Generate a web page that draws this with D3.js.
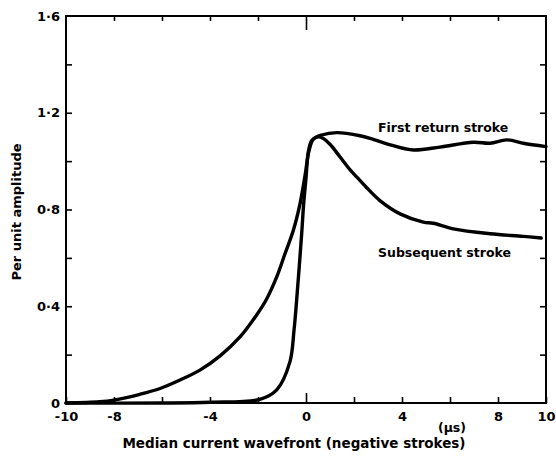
<!DOCTYPE html>
<html>
<head>
<meta charset="utf-8">
<script src="https://cdn.jsdelivr.net/npm/d3@7"></script>
<style>
  html, body { margin: 0; padding: 0; background: #fff; }
  svg { display: block; }
  text { font-family: "DejaVu Sans", sans-serif; font-weight: bold; fill: #000; }
</style>
</head>
<body>
<svg id="chart" width="556" height="458"></svg>
<script>
// ---- data ----
const firstX = [-10, -8.6, -8, -6.92, -6.08, -5.25, -4.42, -3.58, -2.75, -2.05, -1.64, -1.22, -0.875, -0.53, -0.25, -0.04, 0.12, 0.3, 0.65, 1.28, 2.25, 2.8, 3.6, 4.47, 5.58, 6.97, 7.67, 8.36, 9.05, 10];
const firstY = [0, 0.005, 0.012, 0.036, 0.06, 0.095, 0.136, 0.195, 0.273, 0.365, 0.43, 0.521, 0.617, 0.713, 0.823, 0.94, 1.04, 1.09, 1.108, 1.118, 1.105, 1.09, 1.065, 1.046, 1.058, 1.078, 1.074, 1.088, 1.074, 1.06];
const subX = [-10, -6, -4, -1.92, -1.22, -0.67, -0.5, -0.39, -0.18, -0.1, 0, 0.1, 0.24, 0.5, 0.7, 1.0, 1.42, 1.83, 2.11, 2.53, 3.08, 3.92, 4.89, 5.3, 6.14, 7.67, 9.05, 9.8];
const subY = [0, 0, 0.003, 0.015, 0.054, 0.17, 0.3, 0.425, 0.70, 0.82, 0.93, 1.04, 1.085, 1.1, 1.095, 1.07, 1.017, 0.965, 0.935, 0.89, 0.837, 0.782, 0.748, 0.743, 0.72, 0.70, 0.689, 0.682];
const xTicks = [-10, -8, -6, -4, -2, 0, 2, 4, 6, 8, 10];
const xTickLabels = ["-10", "-8", "", "-4", "", "0", "", "4", "", "8", "10"];
const yTicks = [0, 0.2, 0.4, 0.6, 0.8, 1.0, 1.2, 1.4, 1.6];
const yTickLabels = ["0", "", "0·4", "", "0·8", "", "1·2", "", "1·6"];
const seriesNames = ["First return stroke", "Subsequent stroke"];
const xTitle = "Median current wavefront (negative strokes)";
const yTitle = "Per unit amplitude";
const unitLabel = "(µs)";

// ---- layout ----
const svg = d3.select("#chart");
const x = d3.scaleLinear().domain([-10, 10]).range([66, 546]);
const y = d3.scaleLinear().domain([0, 1.6]).range([403, 16]);

// frame
const ax = svg.append("g").attr("stroke", "#000").attr("stroke-width", 2).attr("fill", "none");
ax.append("rect")
  .attr("x", x(-10)).attr("y", y(1.6))
  .attr("width", x(10) - x(-10)).attr("height", y(0) - y(1.6));

// bottom axis (ticks inward)
const bottom = d3.axisBottom(x).tickValues(xTicks)
  .tickSize(0).tickFormat((d, i) => xTickLabels[i]).tickPadding(9);
const gB = svg.append("g").attr("transform", `translate(0,${y(0)})`).call(bottom);
gB.select(".domain").remove();
gB.selectAll(".tick text").attr("font-size", 13);
gB.selectAll(".tick").append("line")
  .attr("y1", 0).attr("y2", d => d === 0 ? -10 : -6)
  .attr("stroke", "#000").attr("stroke-width", 1.6);

// top ticks
const gT = svg.append("g").attr("transform", `translate(0,${y(1.6)})`)
  .call(d3.axisTop(x).tickValues(xTicks.slice(1, -1)).tickSize(0).tickFormat(""));
gT.select(".domain").remove();
gT.selectAll(".tick").append("line")
  .attr("y1", 0).attr("y2", d => d === 0 ? 14 : 5)
  .attr("stroke", "#000").attr("stroke-width", 1.6);

// left axis
const gL = svg.append("g").attr("transform", `translate(${x(-10)},0)`)
  .call(d3.axisLeft(y).tickValues(yTicks).tickSize(0).tickPadding(6).tickFormat((d, i) => yTickLabels[i]));
gL.select(".domain").remove();
gL.selectAll(".tick text").attr("font-size", 13);
gL.selectAll(".tick").filter(d => d > 0 && d < 1.6).append("line")
  .attr("x1", 0).attr("x2", 6).attr("stroke", "#000").attr("stroke-width", 1.6);

// right axis ticks
const gR = svg.append("g").attr("transform", `translate(${x(10)},0)`)
  .call(d3.axisRight(y).tickValues(yTicks.slice(1, -1)).tickSize(0).tickFormat(""));
gR.select(".domain").remove();
gR.selectAll(".tick").append("line")
  .attr("x1", 0).attr("x2", -6).attr("stroke", "#000").attr("stroke-width", 1.6);

// curves
const line = d3.line().x(d => x(d[0])).y(d => y(d[1])).curve(d3.curveCatmullRom.alpha(0.5));
const series = [d3.zip(firstX, firstY), d3.zip(subX, subY)];
svg.append("g").selectAll("path").data(series).join("path")
  .attr("d", line)
  .attr("fill", "none").attr("stroke", "#000").attr("stroke-width", 3.4)
  .attr("stroke-linejoin", "round").attr("stroke-linecap", "round");

// series labels
svg.append("text").attr("x", 378).attr("y", 132).attr("font-size", 12.5).text(seriesNames[0]);
svg.append("text").attr("x", 378).attr("y", 257).attr("font-size", 12.5).text(seriesNames[1]);

// axis titles
svg.append("text").attr("x", 294).attr("y", 448).attr("text-anchor", "middle")
  .attr("font-size", 13.5).text(xTitle);
svg.append("text").attr("transform", "translate(21,212) rotate(-90)").attr("text-anchor", "middle")
  .attr("font-size", 13).text(yTitle);
svg.append("text").attr("x", 452).attr("y", 432).attr("text-anchor", "middle")
  .attr("font-size", 12.5).text(unitLabel);
</script>
</body>
</html>
